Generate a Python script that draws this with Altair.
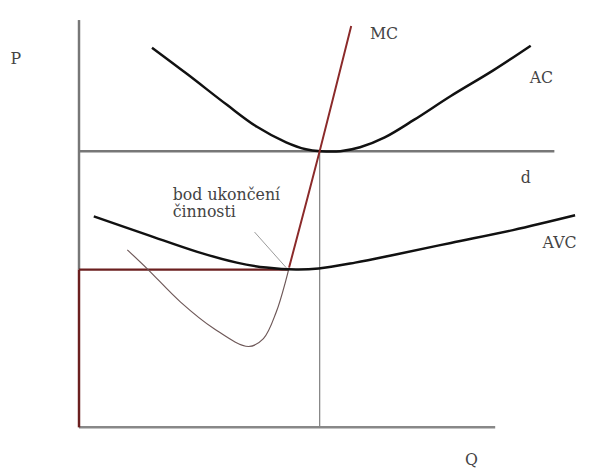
import altair as alt
import pandas as pd

# Curves (Q = quantity units, P = price units)
ac_q = [74, 110, 150, 180, 210, 230, 245, 265, 285, 310, 340, 377, 420, 458]
ac_p = [385, 358, 327, 305, 289, 282, 280, 280, 284, 294, 312, 336, 362, 387]

avc_q = [15, 70, 120, 160, 190, 220, 243, 280, 320, 377, 440, 503]
avc_p = [214, 195, 178, 167, 162, 160, 161, 167, 175, 187, 200, 215]

mc_low_q = [49, 70, 103, 137, 172, 187, 200, 210, 213]
mc_low_p = [180, 160, 127, 100, 82, 90, 117, 150, 162]

mc_up_q = [213, 244, 276]
mc_up_p = [162, 280, 407]

# Straight segments: q, p, q2, p2, color, width
seg_q = [0, 0, 0, 0, 0, 244, 178]
seg_p = [160, 0, 0, 280, 160, 0, 198]
seg_q2 = [0, 422, 0, 482, 213, 244, 210]
seg_p2 = [413, 0, 160, 280, 160, 280, 162]
seg_color = ["#777777", "#888888", "#6b1f1f", "#777777", "#6b1f1f", "#888888", "#999999"]
seg_width = [2.5, 2.5, 2.5, 2.5, 2.2, 1.3, 1.0]

# Labels
lab_text = ["P", "MC", "AC", "d", "AVC", "bod ukončení\nčinnosti", "Q"]
lab_q = [-64, 295, 457, 448, 470, 95, 398]
lab_p = [373, 399, 354, 253, 187, 236, -33]
lab_align = ["center", "left", "left", "left", "left", "left", "center"]

xs = alt.Scale(domain=[-72, 509], nice=False, zero=False)
ys = alt.Scale(domain=[-38, 422], nice=False, zero=False)


def curve(qs, ps, color, width):
    df = pd.DataFrame({"q": qs, "p": ps, "i": range(len(qs))})
    return alt.Chart(df).mark_line(
        color=color, strokeWidth=width, interpolate="catmull-rom"
    ).encode(
        x=alt.X("q:Q", scale=xs, axis=None),
        y=alt.Y("p:Q", scale=ys, axis=None),
        order="i:O",
    )


segs = pd.DataFrame({
    "q": seg_q, "p": seg_p, "q2": seg_q2, "p2": seg_p2,
    "c": seg_color, "w": seg_width,
})
seg_layer = alt.Chart(segs).mark_rule().encode(
    x=alt.X("q:Q", scale=xs, axis=None),
    y=alt.Y("p:Q", scale=ys, axis=None),
    x2="q2:Q",
    y2="p2:Q",
    color=alt.Color("c:N", scale=None),
    strokeWidth=alt.StrokeWidth("w:Q", scale=None),
)

labs = pd.DataFrame({"t": lab_text, "q": lab_q, "p": lab_p, "a": lab_align})
label_layers = []
for a in ["left", "center"]:
    label_layers.append(
        alt.Chart(labs[labs.a == a]).mark_text(
            font="DejaVu Serif", fontSize=16, color="#444444",
            align=a, baseline="middle", lineBreak="\n", lineHeight=18,
        ).encode(
            x=alt.X("q:Q", scale=xs, axis=None),
            y=alt.Y("p:Q", scale=ys, axis=None),
            text="t:N",
        )
    )

chart = alt.layer(
    seg_layer,
    curve(mc_low_q, mc_low_p, "#6e5858", 1.2),
    curve(ac_q, ac_p, "#111111", 2.5),
    curve(avc_q, avc_p, "#111111", 2.5),
    curve(mc_up_q, mc_up_p, "#8b2a2a", 2.0),
    *label_layers,
).properties(
    width=581, height=460, padding=0,
    autosize=alt.AutoSizeParams(type="none"),
    background="white",
).configure_view(stroke=None)

chart.save("out.html", embed_options={"renderer": "svg", "actions": False})
